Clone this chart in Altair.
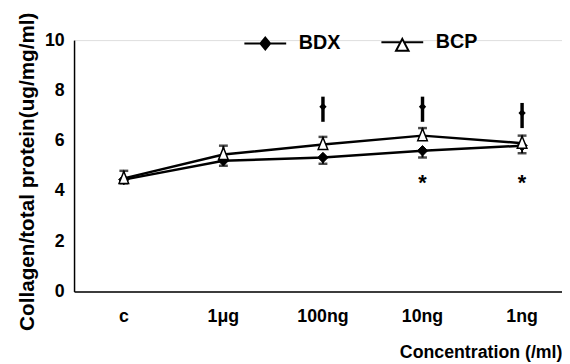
import altair as alt
import pandas as pd

categories = ["c", "1μg", "100ng", "10ng", "1ng"]
series = ["BDX", "BCP"]
bdx_values = [4.45, 5.2, 5.33, 5.6, 5.8]
bdx_errors = [0.15, 0.2, 0.25, 0.27, 0.3]
bcp_values = [4.5, 5.45, 5.85, 6.2, 5.9]
bcp_errors = [0.3, 0.35, 0.3, 0.3, 0.3]
dagger_categories = ["100ng", "10ng", "1ng"]
dagger_values = [7.25, 7.25, 7.0]
star_categories = ["10ng", "1ng"]
star_values = [4.55, 4.55]

rows = []
for c, v, e in zip(categories, bdx_values, bdx_errors):
    rows.append({"cat": c, "series": "BDX", "value": v, "lo": v - e, "hi": v, "cap": v - e})
for c, v, e in zip(categories, bcp_values, bcp_errors):
    rows.append({"cat": c, "series": "BCP", "value": v, "lo": v, "hi": v + e, "cap": v + e})
df = pd.DataFrame(rows)

dag = pd.DataFrame({"cat": dagger_categories, "y": dagger_values})
dag["lo"] = dag["y"] - 0.5
dag["hi"] = dag["y"] + 0.5
dag["mid"] = dag["y"] + 0.1
stars = pd.DataFrame({"cat": star_categories, "y": star_values, "t": ["*"] * len(star_categories)})

FONT = "Liberation Sans"

x = alt.X(
    "cat:N",
    sort=categories,
    scale=alt.Scale(domain=categories, range=[0, 505], paddingInner=0, paddingOuter=0),
    axis=alt.Axis(
        title="Concentration (/ml)", titleX=330, titleY=67, titleAlign="left",
        titleBaseline="alphabetic", titleFont=FONT, titleFontSize=18, titleFontWeight="bold",
        labelAngle=0, labelFont=FONT, labelFontSize=18, labelFontWeight="bold",
        labelPadding=16, ticks=False, domainColor="black", domainWidth=1.5,
        labelColor="black", titleColor="black", grid=False,
    ),
)
y_scale = alt.Scale(domain=[0, 10], nice=False)
y = alt.Y(
    "value:Q",
    scale=y_scale,
    axis=alt.Axis(
        title="Collagen/total protein(ug/mg/ml)", values=[0, 2, 4, 6, 8, 10],
        titleFont=FONT, titleFontSize=21, titleFontWeight="bold", titleColor="black",
        titleX=-41, titleY=133, titleAngle=-90, titleAlign="center", titleBaseline="alphabetic",
        labelFont=FONT, labelFontSize=18, labelFontWeight="bold", labelColor="black",
        labelPadding=10, ticks=False, domainColor="black", domainWidth=1.5, grid=False,
    ),
)

base = alt.Chart(df)

stems = base.mark_rule(color="black", strokeWidth=2).encode(
    x=x, y=alt.Y("lo:Q", scale=y_scale), y2="hi:Q"
)
caps = base.mark_tick(color="black", thickness=2.5, size=9, orient="horizontal").encode(
    x=x, y=alt.Y("cap:Q", scale=y_scale)
)
lines = base.mark_line(color="black", strokeWidth=2.5).encode(
    x=x, y=y, detail="series:N"
)

tri_path = "M0,-1.15L0.8,0.85L-0.8,0.85Z"
bdx_points = base.transform_filter(alt.datum.series == "BDX").mark_point(
    shape="diamond", filled=True, opacity=1, fill="black", stroke="black", strokeWidth=1, size=110
).encode(x=x, y=y)
bcp_points = base.transform_filter(alt.datum.series == "BCP").mark_point(
    shape=tri_path, filled=True, opacity=1, fill="white", stroke="black", strokeWidth=1.5, size=150
).encode(x=x, y=y)

bdx_path = "M-3,0H3M0,-0.85L0.7,0L0,0.85L-0.7,0Z"
bcp_path = "M-3,0H-0.27M0.27,0H3M0,-0.5L0.9,1.2L-0.9,1.2Z"
leg = alt.Legend(
    title=None, orient="none", direction="horizontal",
    legendX=184, legendY=-8, symbolSize=200, labelOffset=24, columnPadding=36,
    labelFont=FONT, labelFontSize=20, labelFontWeight="bold", labelColor="black",
    padding=0, symbolOpacity=1, symbolStrokeColor="black", symbolStrokeWidth=2,
)
legend_layer = base.mark_point(filled=False, opacity=0, color="black", strokeWidth=2).encode(
    x=x,
    y=y,
    shape=alt.Shape("series:N", scale=alt.Scale(domain=series, range=[bdx_path, bcp_path]), legend=leg),
    fill=alt.Fill("series:N", scale=alt.Scale(domain=series, range=["black", "white"]), legend=leg),
    stroke=alt.Stroke("series:N", scale=alt.Scale(domain=series, range=["black", "black"]), legend=leg),
)

dag_rules = alt.Chart(dag).mark_rule(color="black", strokeWidth=3.5).encode(
    x=x, y=alt.Y("lo:Q", scale=y_scale), y2="hi:Q"
)
dag_marks = alt.Chart(dag).mark_point(shape="diamond", filled=True, color="black", opacity=1, size=55).encode(
    x=x, y=alt.Y("mid:Q", scale=y_scale)
)
star_text = alt.Chart(stars).mark_text(font=FONT, fontSize=22, fontWeight="bold", color="black", baseline="middle", dy=6).encode(
    x=x, y=alt.Y("y:Q", scale=y_scale), text="t:N"
)

chart = alt.layer(stems, caps, lines, bdx_points, bcp_points, legend_layer, dag_rules, dag_marks, star_text).properties(
    width=495, height=255,
    autosize=alt.AutoSizeParams(type="none"),
    padding={"left": 67, "top": 30, "right": 0, "bottom": 71},
).configure_view(stroke=None).configure(background="white")

chart.save("out.html", embed_options={"renderer": "svg", "actions": False})
